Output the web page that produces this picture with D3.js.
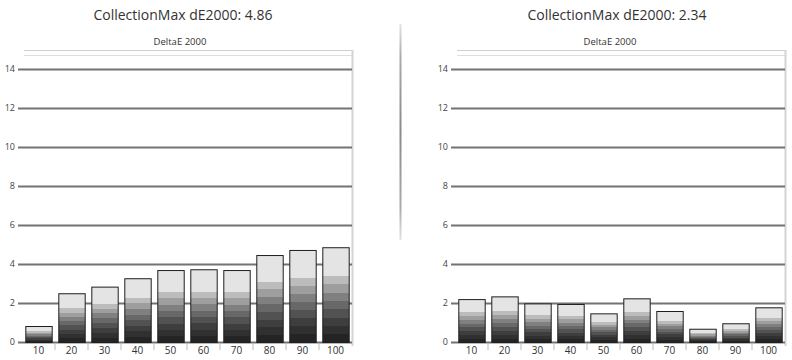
<!DOCTYPE html>
<html>
<head>
<meta charset="utf-8">
<script src="https://cdn.jsdelivr.net/npm/d3@7"></script>
<style>
  body { margin: 0; background: #fff; }
  svg { display: block; font-family: "Open Sans", "Liberation Sans", sans-serif; }
</style>
</head>
<body>
<div id="chart"></div>
<script>
const levels = ["10", "20", "30", "40", "50", "60", "70", "80", "90", "100"];
const leftValues = [0.82, 2.5, 2.84, 3.27, 3.69, 3.73, 3.69, 4.46, 4.72, 4.86];
const rightValues = [2.2, 2.34, 1.98, 1.95, 1.47, 2.24, 1.59, 0.68, 0.96, 1.78];
const yTicks = [0, 2, 4, 6, 8, 10, 12, 14];
const titles = ["CollectionMax dE2000: 4.86", "CollectionMax dE2000: 2.34"];
const subtitle = "DeltaE 2000";

const W = 792, H = 360;
const svg = d3.select("#chart").append("svg").attr("width", W).attr("height", H);
const defs = svg.append("defs");

// stepped grey fill, dark at the bottom and pale at the top
const bands = ["#242424", "#303030", "#3e3e3e", "#525252", "#686868", "#808080", "#9e9e9e", "#bcbcbc", "#e4e4e4"];
const grad = defs.append("linearGradient").attr("id", "barfill")
  .attr("x1", 0).attr("y1", 1).attr("x2", 0).attr("y2", 0);
const stepH = 0.7 / (bands.length - 1);
bands.forEach((c, i) => {
  const a = i * stepH, b = i === bands.length - 1 ? 1 : (i + 1) * stepH;
  grad.append("stop").attr("offset", a).attr("stop-color", c);
  grad.append("stop").attr("offset", b).attr("stop-color", c);
});

const sep = defs.append("linearGradient").attr("id", "sep")
  .attr("x1", 0).attr("y1", 0).attr("x2", 0).attr("y2", 1);
sep.append("stop").attr("offset", "0%").attr("stop-color", "#e4e4e4");
sep.append("stop").attr("offset", "15%").attr("stop-color", "#aaaaaa");
sep.append("stop").attr("offset", "50%").attr("stop-color", "#8a8a8a");
sep.append("stop").attr("offset", "85%").attr("stop-color", "#aaaaaa");
sep.append("stop").attr("offset", "100%").attr("stop-color", "#e4e4e4");

svg.append("rect").attr("x", 399.5).attr("y", 24).attr("width", 2).attr("height", 216)
  .attr("fill", "url(#sep)");

const panels = [
  { x0: 22, x1: 352, values: leftValues, title: titles[0], titleX: 183, subX: 180 },
  { x0: 455, x1: 785, values: rightValues, title: titles[1], titleX: 617, subX: 610 }
];

const y = d3.scaleLinear().domain([0, 14]).range([342, 69]);

panels.forEach(p => {
  const g = svg.append("g");

  g.append("text").attr("x", p.titleX).attr("y", 20).attr("text-anchor", "middle")
    .attr("font-size", 14).attr("fill", "#333").text(p.title);
  g.append("text").attr("x", p.subX).attr("y", 45).attr("text-anchor", "middle")
    .attr("font-size", 9.5).attr("fill", "#333").text(subtitle);

  // light frame at the top and right of the plot
  g.append("line").attr("x1", p.x0 + 2).attr("x2", p.x1).attr("y1", 50.5).attr("y2", 50.5)
    .attr("stroke", "#cfcfcf");
  g.append("line").attr("x1", p.x0 + 2).attr("x2", p.x1).attr("y1", 55.5).attr("y2", 55.5)
    .attr("stroke", "#dedede");
  g.append("line").attr("x1", p.x1 + 0.5).attr("x2", p.x1 + 0.5).attr("y1", 50).attr("y2", 346)
    .attr("stroke", "#d4d4d4").attr("stroke-width", 2);

  const x = d3.scaleBand().domain(levels).range([p.x0, p.x1]).paddingInner(0.2).paddingOuter(0.1);

  const yAxis = g.append("g").attr("transform", `translate(${p.x0 - 4},0)`)
    .call(d3.axisLeft(y).tickValues(yTicks).tickSize(-(p.x1 - p.x0 + 4)).tickPadding(3));
  yAxis.select(".domain").remove();
  yAxis.selectAll(".tick line").attr("stroke", "#737373").attr("stroke-width", 2);
  yAxis.selectAll(".tick text").attr("fill", "#444").attr("font-size", 9)
    .attr("font-family", "\"Open Sans\", sans-serif");

  g.selectAll("rect.bar").data(p.values).join("rect").attr("class", "bar")
    .attr("x", (d, i) => x(levels[i]) + 0.5)
    .attr("y", d => y(d) + 0.5)
    .attr("width", x.bandwidth())
    .attr("height", d => y(0) - y(d))
    .attr("fill", "url(#barfill)")
    .attr("stroke", "#1e1e1e").attr("stroke-width", 1);

  const xAxis = g.append("g").attr("transform", "translate(0,343)")
    .call(d3.axisBottom(x).tickSize(0).tickPadding(4));
  xAxis.select(".domain").remove();
  xAxis.selectAll(".tick text").attr("fill", "#333").attr("font-size", 10)
    .attr("font-family", "\"Open Sans\", sans-serif");

  // small separators between category labels
  g.selectAll("line.sepTick").data(levels.slice(1)).join("line").attr("class", "sepTick")
    .attr("x1", d => x(d) - x.step() * 0.1).attr("x2", d => x(d) - x.step() * 0.1)
    .attr("y1", 344).attr("y2", 350)
    .attr("stroke", "#bbb");
});
</script>
</body>
</html>
